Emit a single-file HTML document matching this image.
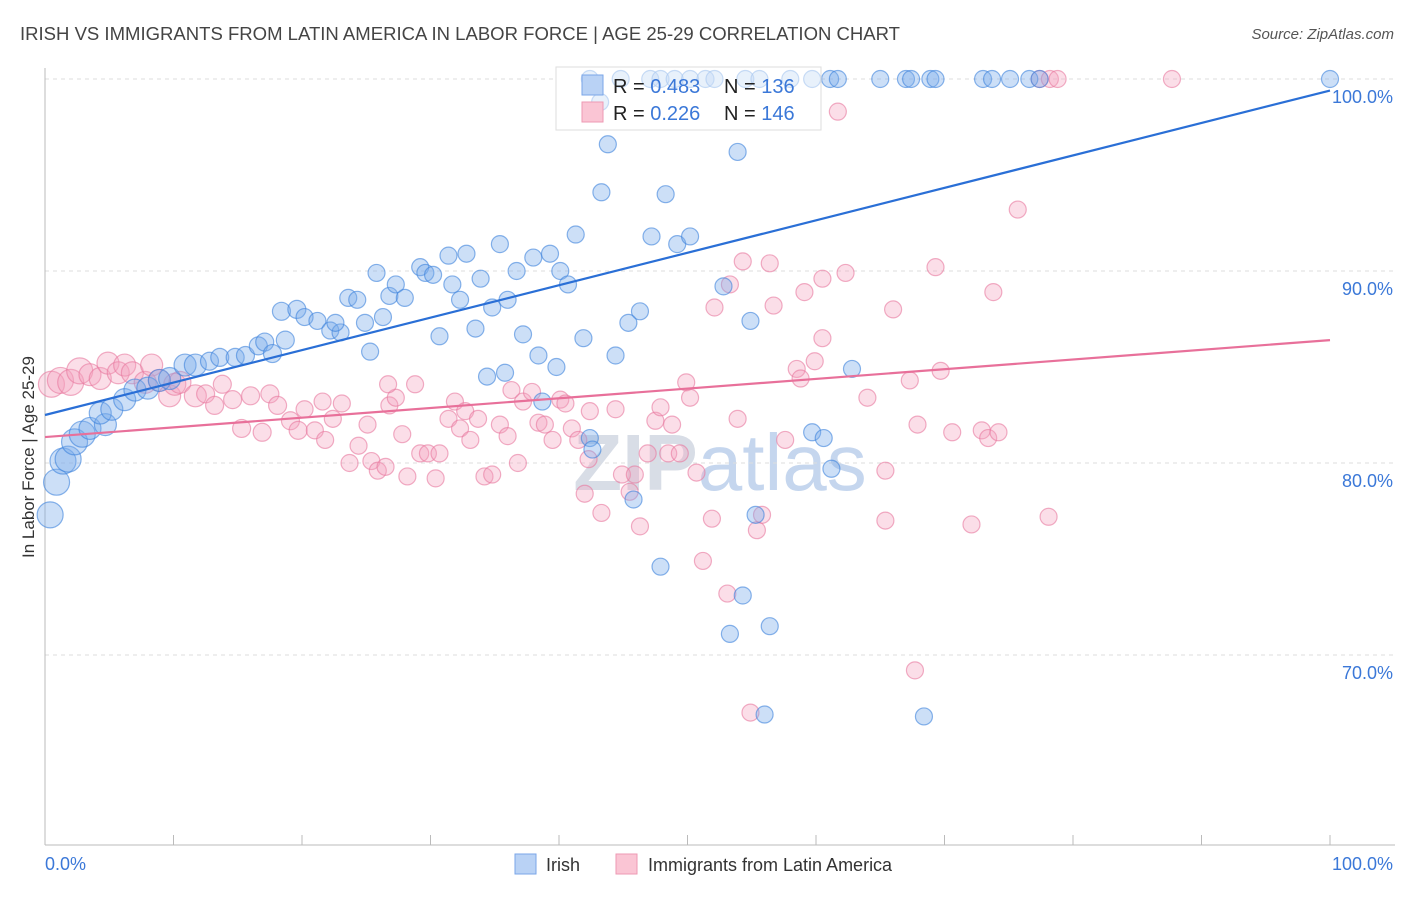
<!DOCTYPE html>
<html><head><meta charset="utf-8"><style>
body{margin:0;background:#fff;font-family:"Liberation Sans",sans-serif}
svg text{font-family:"Liberation Sans",sans-serif}
</style></head><body>
<svg id="chart" width="1406" height="892" xmlns="http://www.w3.org/2000/svg">
<text x="20" y="40" font-size="18" fill="#444" textLength="880" lengthAdjust="spacingAndGlyphs">IRISH VS IMMIGRANTS FROM LATIN AMERICA IN LABOR FORCE | AGE 25-29 CORRELATION CHART</text>
<text x="1394" y="39" font-size="15" fill="#555" text-anchor="end" font-style="italic">Source: ZipAtlas.com</text>
<text x="720" y="490" font-size="80" fill="#d8dde6" text-anchor="middle" font-weight="bold">ZIP<tspan fill="#c5d6ee" font-weight="normal">atlas</tspan></text>
<g id="grid"></g><g id="axes"></g>
<g>
<rect x="556" y="67" width="265" height="63" fill="#fff" stroke="#ddd"/>
</g>
<g id="pts"></g><g id="lines"></g>
<g>
<rect x="556" y="67" width="265" height="63" fill="rgba(255,255,255,0.55)" stroke="#ddd"/>
<rect x="582" y="75" width="21" height="20" fill="#b9d2f5" stroke="#7aa6e8"/>
<rect x="582" y="102" width="21" height="20" fill="#fac5d4" stroke="#ee99b3"/>
<text x="613" y="93" font-size="20" fill="#222">R = <tspan fill="#3b78d8">0.483</tspan><tspan x="724">N = </tspan><tspan fill="#3b78d8">136</tspan></text>
<text x="613" y="120" font-size="20" fill="#222">R = <tspan fill="#3b78d8">0.226</tspan><tspan x="724">N = </tspan><tspan fill="#3b78d8">146</tspan></text>
</g>
<text transform="translate(34,457) rotate(-90)" font-size="17" fill="#333" text-anchor="middle">In Labor Force | Age 25-29</text>
<text x="45" y="870" font-size="18" fill="#3b78d8">0.0%</text>
<text x="1393" y="870" font-size="18" fill="#3b78d8" text-anchor="end">100.0%</text>
<g><rect x="515" y="854" width="21" height="20" fill="#b9d2f5" stroke="#7aa6e8"/><text x="546" y="871" font-size="18" fill="#333">Irish</text></g>
<g><rect x="616" y="854" width="21" height="20" fill="#fac5d4" stroke="#ee99b3"/><text x="648" y="871" font-size="18" fill="#333">Immigrants from Latin America</text></g>
</svg>
<script>
const yTicks=[70,80,90,100];
const yTickLabels=["70.0%","80.0%","90.0%","100.0%"];
const irishX=[0.4,0.9,1.4,1.8,2.3,2.9,3.5,4.7,4.3,5.2,6.2,7.0,8.0,8.9,9.7,10.9,11.7,12.8,13.6,14.8,15.6,16.6,17.1,17.7,18.7,18.4,19.6,20.2,21.2,22.2,23.0,23.6,24.3,22.6,24.9,25.3,25.8,26.3,26.8,27.3,28.0,29.2,29.6,30.2,30.7,31.7,32.3,31.4,32.8,33.5,33.9,34.8,35.4,36.0,36.7,37.2,38.0,38.4,39.3,40.1,40.7,39.8,41.3,41.9,44.4,43.3,43.8,34.4,35.8,38.7,42.4,42.6,45.4,46.3,47.2,48.3,49.2,50.2,45.8,47.9,53.9,52.8,54.9,54.3,53.3,55.3,56.4,56.0,59.7,60.6,61.2,62.8,68.4,
42.4,44.8,47.1,47.9,49.0,50.2,51.4,52.1,54.5,55.6,58.0,59.7,61.1,61.7,65.0,67.0,67.4,68.9,69.3,73.0,73.7,75.1,76.6,77.4,100,43.2];
const irishY=[77.3,79.0,80.1,80.2,81.1,81.5,81.8,82.0,82.6,82.8,83.3,83.8,83.9,84.3,84.4,85.1,85.1,85.3,85.5,85.5,85.6,86.1,86.3,85.7,86.4,87.9,88.0,87.6,87.4,86.9,86.8,88.6,88.5,87.3,87.3,85.8,89.9,87.6,88.7,89.3,88.6,90.2,89.9,89.8,86.6,89.3,88.5,90.8,90.9,87.0,89.6,88.1,91.4,88.5,90.0,86.7,90.7,85.6,90.9,90.0,89.3,85.0,91.9,86.5,85.6,94.1,96.6,84.5,84.7,83.2,81.3,80.7,87.3,87.9,91.8,94.0,91.4,91.8,78.1,74.6,96.2,89.2,87.4,73.1,71.1,77.3,71.5,66.9,81.6,81.3,79.7,84.9,66.8,
100,100,100,100,100,100,100,100,100,100,100,100,100,100,100,100,100,100,100,100,100,100,100,100,100,98.8];
const latX=[0.5,1.2,2.0,2.7,3.5,4.3,4.9,5.7,6.2,6.8,7.8,8.3,8.9,9.7,10.1,10.5,11.7,12.5,13.2,13.8,14.6,15.3,16.0,16.9,17.5,18.1,19.1,19.7,20.2,21.0,21.6,21.8,22.4,23.1,23.7,24.4,25.1,25.4,25.9,26.5,26.8,27.3,26.7,27.8,28.2,28.8,29.2,29.8,30.4,30.7,31.4,31.9,32.3,32.7,33.1,33.7,34.2,34.8,35.4,36.0,36.3,36.8,37.2,37.9,38.4,38.9,39.5,40.1,40.5,41.0,41.5,42.0,42.3,42.4,43.3,44.4,44.9,45.5,45.9,46.3,46.9,47.5,47.9,48.5,48.8,49.4,49.9,50.2,50.7,51.2,51.9,52.1,53.1,53.3,53.9,54.3,54.9,55.4,55.8,56.4,56.7,57.6,58.5,58.8,59.1,59.9,60.5,60.5,61.7,62.3,64.0,65.4,66.0,67.3,67.7,67.9,69.3,69.7,70.6,72.1,72.9,73.4,73.8,74.2,75.7,78.1,65.4,77.4,78.2,78.8,87.7];
const latY=[84.1,84.3,84.2,84.8,84.6,84.4,85.2,84.7,85.1,84.7,84.2,85.1,84.3,83.5,84.1,84.2,83.5,83.6,83.0,84.1,83.3,81.8,83.5,81.6,83.6,83.0,82.2,81.7,82.8,81.7,83.2,81.2,82.3,83.1,80.0,80.9,82.0,80.1,79.6,79.8,83.0,83.4,84.1,81.5,79.3,84.1,80.5,80.5,79.2,80.5,82.3,83.2,81.8,82.7,81.2,82.3,79.3,79.4,82.0,81.4,83.8,80.0,83.2,83.7,82.1,82.0,81.2,83.3,83.1,81.8,81.2,78.4,80.2,82.7,77.4,82.8,79.4,78.5,79.4,76.7,80.5,82.2,82.9,80.5,82.0,80.5,84.2,83.4,79.5,74.9,77.1,88.1,73.2,89.3,82.3,90.5,67.0,76.5,77.3,90.4,88.2,81.2,84.9,84.4,88.9,85.3,86.5,89.6,98.3,89.9,83.4,79.6,88.0,84.3,69.2,82.0,90.2,84.8,81.6,76.8,81.7,81.3,88.9,81.6,93.2,77.2,77.0,100,100,100,100];
const irishTrend=[82.5,99.4];
const latTrend=[81.35,86.4];
const NS="http://www.w3.org/2000/svg";
function xs(v){return 45+v*12.85;}
function ys(v){return 79+(100-v)*19.2;}
function mk(t,a,p){const e=document.createElementNS(NS,t);for(const k in a)e.setAttribute(k,a[k]);document.getElementById(p).appendChild(e);return e;}
yTicks.forEach((t,i)=>{
 const g=mk('line',{x1:45,x2:1395,y1:ys(t),y2:ys(t),stroke:'#ddd','stroke-dasharray':'4,4'},'grid');
 
 
 const tx=mk('text',{x:1393,y:ys(t)+24,'font-size':18,fill:'#3b78d8','text-anchor':'end'},'grid');
 tx.textContent=yTickLabels[i];
 
 
});
const ax=mk('line',{x1:45,x2:45,y1:68,y2:845,stroke:'#bbb'},'axes');


const bx=mk('line',{x1:45,x2:1395,y1:845,y2:845,stroke:'#bbb'},'axes');


for(let i=0;i<=10;i++){
 const t=mk('line',{x1:xs(i*10),x2:xs(i*10),y1:835,y2:845,stroke:'#bbb'},'axes');
 
 
}
function pts(X,Y,fill,stroke,name){
 X.forEach((x,i)=>{
  const r=x<3?13:x<12?11:x<20?9:8.5;
  const c=mk('circle',{cx:xs(x),cy:ys(Y[i]),r:r,fill:fill,stroke:stroke,'stroke-width':1.2},'pts');
  
  
 });
}
pts(latX,latY,'rgba(244,160,188,0.35)','rgba(232,120,158,0.6)','latin-america-point');
pts(irishX,irishY,'rgba(120,170,235,0.38)','rgba(60,130,220,0.6)','irish-point');
const l1=mk('line',{x1:xs(0),y1:ys(irishTrend[0]),x2:xs(100),y2:ys(irishTrend[1]),stroke:'#2a6fd6','stroke-width':2.2},'lines');


const l2=mk('line',{x1:xs(0),y1:ys(latTrend[0]),x2:xs(100),y2:ys(latTrend[1]),stroke:'#e8709a','stroke-width':2.2},'lines');


</script>
</body></html>
